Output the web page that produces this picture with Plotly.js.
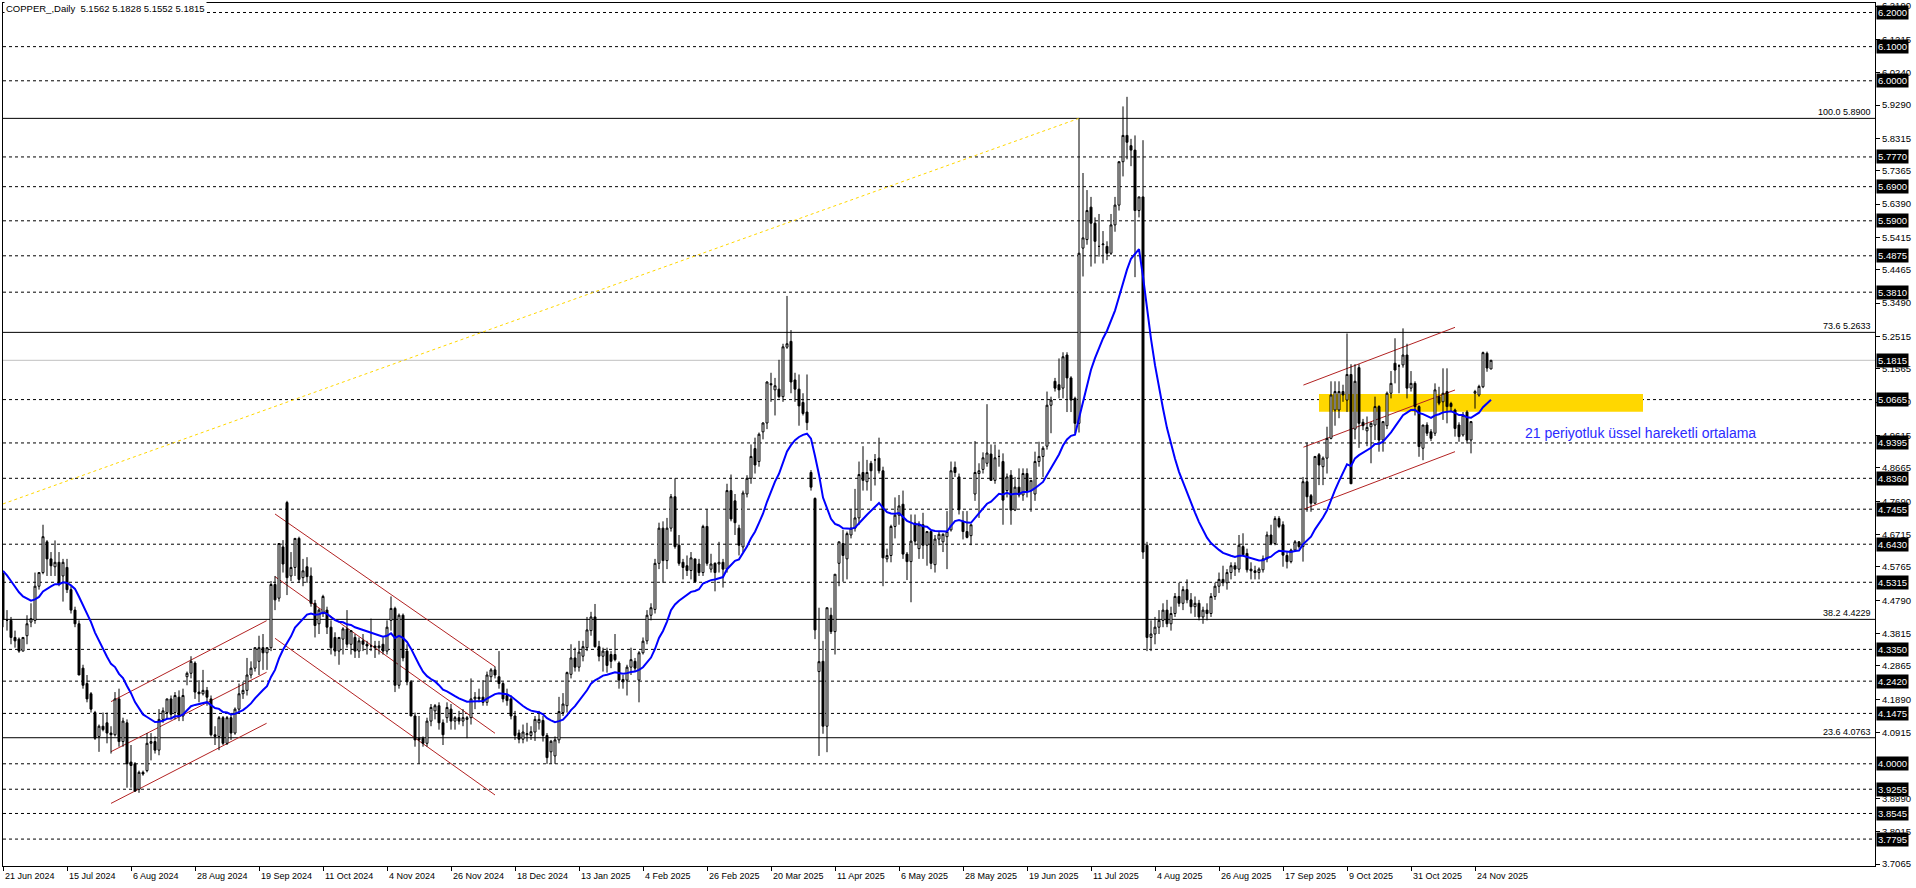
<!DOCTYPE html>
<html><head><meta charset="utf-8">
<script src="https://cdn.plot.ly/plotly-3.0.1.min.js"></script>
<style>html,body{margin:0;padding:0;background:#fff;overflow:hidden}#chart{width:1916px;height:888px}</style>
</head><body><div id="chart"></div>
<script>
// ---- Data (daily bars, COPPER_, from 21 Jun 2024) ----
const OPEN = [
4.558,4.42,4.42,4.37,4.365,4.33,4.375,4.415,4.42,4.52,
4.56,4.65,4.60,4.577,4.59,4.55,4.575,4.51,4.45,4.41,
4.28,4.235,4.205,4.15,4.08,4.11,4.12,4.09,4.085,4.19,
4.065,4.12,4.005,4.0,3.925,3.975,3.98,4.06,4.065,4.04,
4.13,4.15,4.19,4.15,4.195,4.14,4.255,4.265,4.295,4.21,
4.205,4.215,4.19,4.085,4.08,4.135,4.06,4.135,4.09,4.16,
4.205,4.215,4.26,4.28,4.30,4.34,4.325,4.34,4.525,4.485,
4.635,4.765,4.55,4.575,4.66,4.545,4.577,4.55,4.47,4.41,
4.44,4.45,4.40,4.37,4.33,4.365,4.395,4.35,4.37,4.33,
4.36,4.35,4.345,4.345,4.34,4.35,4.33,4.42,4.455,4.23,
4.435,4.33,4.24,4.14,4.075,4.075,4.06,4.125,4.155,4.17,
4.12,4.135,4.16,4.125,4.135,4.125,4.13,4.135,4.19,4.195,
4.195,4.18,4.255,4.275,4.255,4.235,4.20,4.19,4.14,4.09,
4.072,4.085,4.083,4.093,4.12,4.127,4.083,4.035,4.023,4.07,
4.15,4.17,4.262,4.31,4.283,4.315,4.34,4.39,4.43,4.343,
4.315,4.33,4.32,4.32,4.295,4.247,4.245,4.283,4.30,4.245,
4.325,4.36,4.435,4.452,4.587,4.69,4.595,4.69,4.782,4.64,
4.59,4.58,4.566,4.60,4.585,4.56,4.695,4.57,4.587,4.585,
4.59,4.57,4.80,4.77,4.69,4.635,4.79,4.836,4.923,4.885,
4.972,4.998,5.113,5.095,5.097,5.075,5.22,5.237,5.124,5.097,
5.058,5.03,4.853,4.777,4.27,4.30,4.11,4.435,4.387,4.587,
4.645,4.60,4.67,4.69,4.72,4.853,4.826,4.88,4.89,4.895,
4.858,4.60,4.61,4.695,4.728,4.76,4.614,4.592,4.705,4.63,
4.70,4.64,4.68,4.583,4.658,4.65,4.665,4.685,4.868,4.84,
4.71,4.68,4.668,4.79,4.85,4.862,4.88,4.907,4.83,4.90,
4.885,4.80,4.845,4.743,4.81,4.787,4.85,4.80,4.79,4.885,
4.90,4.93,5.05,5.12,5.11,5.10,5.197,5.13,5.07,4.997,
5.51,5.535,5.63,5.583,5.515,5.52,5.515,5.495,5.578,5.636,
5.763,5.84,5.81,5.797,5.62,5.66,4.64,4.37,4.38,4.40,
4.42,4.45,4.41,4.44,4.49,4.47,4.51,4.48,4.46,4.47,
4.43,4.45,4.44,4.49,4.52,4.54,4.53,4.56,4.58,4.57,
4.636,4.616,4.57,4.565,4.56,4.568,4.60,4.67,4.645,4.718,
4.70,4.61,4.592,4.626,4.65,4.636,4.826,4.785,4.763,4.905,
4.87,4.895,4.953,5.036,5.036,5.09,5.065,5.14,4.98,5.16,
5.0,4.975,4.987,4.992,5.046,4.948,4.99,5.085,5.173,5.165,
5.168,5.197,5.10,5.114,5.046,4.924,4.992,4.972,4.968,5.075,
5.06,5.09,5.055,5.036,4.992,4.963,5.03,4.948,5.085,5.08,
5.104,5.202,5.1562];
const HIGH = [
4.56,4.45,4.43,4.39,4.37,4.37,4.435,4.47,4.56,4.56,
4.70,4.655,4.62,4.654,4.62,4.60,4.60,4.52,4.46,4.42,
4.29,4.26,4.21,4.155,4.115,4.15,4.15,4.11,4.21,4.22,
4.135,4.13,4.055,4.005,3.98,3.98,4.09,4.09,4.08,4.16,
4.165,4.19,4.20,4.21,4.215,4.22,4.27,4.315,4.30,4.245,
4.275,4.225,4.20,4.11,4.14,4.14,4.14,4.145,4.165,4.235,
4.24,4.31,4.30,4.34,4.375,4.38,4.34,4.535,4.55,4.645,
4.655,4.77,4.62,4.66,4.665,4.60,4.605,4.575,4.48,4.455,
4.495,4.46,4.42,4.385,4.37,4.40,4.45,4.39,4.38,4.37,
4.38,4.36,4.425,4.36,4.36,4.37,4.42,4.49,4.46,4.44,
4.44,4.35,4.245,4.15,4.14,4.08,4.135,4.175,4.175,4.18,
4.13,4.18,4.175,4.14,4.155,4.16,4.14,4.25,4.21,4.22,
4.245,4.27,4.28,4.285,4.33,4.24,4.22,4.20,4.155,4.10,
4.115,4.12,4.11,4.14,4.155,4.14,4.09,4.07,4.08,4.196,
4.207,4.27,4.35,4.34,4.36,4.36,4.43,4.445,4.468,4.36,
4.34,4.34,4.33,4.38,4.30,4.26,4.29,4.34,4.31,4.33,
4.37,4.45,4.47,4.60,4.706,4.71,4.72,4.79,4.836,4.67,
4.60,4.61,4.62,4.60,4.60,4.70,4.745,4.615,4.59,4.65,
4.60,4.82,4.847,4.79,4.70,4.80,4.845,4.935,4.955,4.97,
5.0,5.12,5.145,5.13,5.183,5.23,5.37,5.27,5.145,5.14,
5.085,5.14,4.86,4.78,4.457,4.36,4.457,4.457,4.555,4.65,
4.685,4.68,4.745,4.805,4.885,4.93,4.89,4.887,4.907,4.955,
4.87,4.63,4.70,4.78,4.787,4.80,4.62,4.73,4.73,4.71,
4.735,4.68,4.68,4.67,4.68,4.675,4.74,4.885,4.885,4.85,
4.74,4.74,4.70,4.945,4.88,4.912,5.053,4.935,4.935,4.92,
4.909,4.85,4.86,4.84,4.865,4.865,4.865,4.83,4.914,4.943,
4.93,5.09,5.075,5.13,5.187,5.205,5.205,5.135,5.075,5.89,
5.73,5.68,5.66,5.60,5.61,5.56,5.53,5.61,5.66,5.76,
5.925,5.953,5.83,5.84,5.66,5.826,4.65,4.42,4.43,4.45,
4.47,4.48,4.46,4.50,4.53,4.52,4.54,4.50,4.49,4.48,
4.46,4.47,4.50,4.53,4.56,4.58,4.57,4.59,4.59,4.67,
4.675,4.63,4.59,4.58,4.575,4.61,4.68,4.70,4.725,4.725,
4.71,4.62,4.63,4.655,4.652,4.84,4.94,4.79,4.90,4.91,
4.90,4.987,5.12,5.12,5.12,5.11,5.26,5.17,5.17,5.17,
5.01,5.017,5.0,5.075,5.05,5.0,5.09,5.15,5.246,5.17,
5.275,5.23,5.15,5.12,5.05,4.99,5.0,4.98,5.114,5.104,
5.158,5.158,5.06,5.04,5.0,5.03,5.035,5.0,5.095,5.11,
5.207,5.207,5.1828];
const LOW = [
4.40,4.39,4.35,4.34,4.325,4.33,4.35,4.40,4.41,4.51,
4.555,4.55,4.55,4.55,4.52,4.475,4.50,4.44,4.40,4.26,
4.22,4.18,4.15,4.07,4.035,4.095,4.06,4.03,4.08,4.05,
4.05,3.93,3.93,3.918,3.915,3.965,3.975,4.01,4.03,4.025,
4.12,4.13,4.13,4.13,4.125,4.125,4.23,4.25,4.19,4.18,
4.20,4.17,4.08,4.055,4.04,4.055,4.055,4.07,4.085,4.15,
4.19,4.20,4.25,4.27,4.26,4.275,4.275,4.33,4.45,4.475,
4.56,4.494,4.535,4.55,4.53,4.52,4.53,4.46,4.37,4.38,
4.43,4.38,4.32,4.315,4.29,4.32,4.34,4.32,4.31,4.31,
4.33,4.32,4.33,4.31,4.32,4.32,4.32,4.39,4.21,4.22,
4.30,4.23,4.14,4.05,4.0,4.05,4.05,4.11,4.13,4.10,
4.055,4.12,4.10,4.10,4.115,4.11,4.075,4.115,4.16,4.18,
4.17,4.17,4.24,4.25,4.22,4.18,4.17,4.13,4.07,4.06,
4.06,4.065,4.07,4.067,4.10,4.065,4.0,4.0,4.0,4.06,
4.14,4.15,4.25,4.27,4.27,4.30,4.33,4.375,4.34,4.30,
4.27,4.267,4.28,4.30,4.22,4.22,4.20,4.26,4.27,4.18,
4.32,4.35,4.42,4.44,4.57,4.53,4.57,4.68,4.63,4.58,
4.54,4.55,4.54,4.53,4.55,4.55,4.58,4.56,4.505,4.56,
4.516,4.56,4.71,4.67,4.61,4.62,4.78,4.82,4.85,4.87,
4.95,4.98,5.06,5.02,5.07,5.06,5.215,5.085,5.06,4.99,
5.02,4.977,4.80,4.365,4.023,4.088,4.034,4.38,4.32,4.52,
4.533,4.54,4.66,4.68,4.70,4.80,4.80,4.77,4.815,4.85,
4.52,4.59,4.59,4.66,4.70,4.60,4.538,4.473,4.64,4.60,
4.60,4.58,4.57,4.56,4.64,4.62,4.57,4.68,4.84,4.73,
4.657,4.66,4.64,4.77,4.72,4.85,4.87,4.83,4.82,4.87,
4.70,4.78,4.70,4.74,4.78,4.77,4.78,4.738,4.77,4.87,
4.84,4.92,4.968,5.09,5.07,5.07,5.03,5.03,4.968,4.97,
5.427,5.52,5.456,5.465,5.485,5.465,5.475,5.49,5.558,5.62,
5.72,5.77,5.75,5.425,5.60,4.60,4.33,4.33,4.35,4.38,
4.40,4.40,4.39,4.43,4.46,4.45,4.47,4.44,4.43,4.42,
4.41,4.42,4.43,4.48,4.50,4.52,4.51,4.54,4.55,4.56,
4.61,4.56,4.54,4.54,4.54,4.56,4.59,4.64,4.64,4.69,
4.577,4.572,4.587,4.62,4.63,4.592,4.738,4.738,4.76,4.816,
4.816,4.85,4.95,4.99,5.012,5.06,5.03,4.82,4.95,4.925,
4.977,4.93,4.88,4.948,4.914,4.914,4.98,5.07,5.114,5.085,
5.16,5.07,5.09,5.02,4.899,4.889,4.96,4.945,4.96,5.05,
5.007,4.997,5.03,4.958,4.943,4.958,4.938,4.909,5.04,5.075,
5.10,5.148,5.1552];
const CLOSE = [
4.423,4.42,4.37,4.36,4.33,4.37,4.41,4.425,4.52,4.56,
4.665,4.60,4.58,4.59,4.525,4.59,4.51,4.45,4.41,4.26,
4.23,4.19,4.16,4.075,4.11,4.10,4.09,4.085,4.19,4.065,
4.125,4.00,3.995,3.92,3.975,3.97,4.06,4.065,4.04,4.13,
4.155,4.19,4.145,4.20,4.14,4.20,4.265,4.30,4.21,4.205,
4.215,4.195,4.085,4.08,4.135,4.06,4.135,4.09,4.16,4.205,
4.215,4.26,4.28,4.34,4.34,4.325,4.34,4.525,4.48,4.645,
4.585,4.545,4.575,4.66,4.54,4.565,4.548,4.47,4.405,4.45,
4.49,4.40,4.34,4.33,4.37,4.395,4.35,4.39,4.33,4.36,
4.35,4.345,4.345,4.34,4.345,4.33,4.40,4.455,4.23,4.435,
4.31,4.24,4.14,4.07,4.07,4.06,4.125,4.165,4.17,4.12,
4.085,4.165,4.125,4.135,4.125,4.135,4.135,4.19,4.195,4.19,
4.18,4.26,4.275,4.26,4.235,4.19,4.185,4.14,4.083,4.072,
4.093,4.088,4.094,4.13,4.13,4.083,4.018,4.066,4.07,4.153,
4.175,4.267,4.31,4.283,4.327,4.343,4.392,4.43,4.343,4.315,
4.33,4.288,4.30,4.305,4.245,4.24,4.283,4.305,4.28,4.325,
4.359,4.435,4.457,4.587,4.69,4.595,4.69,4.782,4.636,4.587,
4.575,4.566,4.603,4.533,4.56,4.695,4.587,4.585,4.56,4.59,
4.57,4.80,4.717,4.706,4.64,4.793,4.836,4.90,4.875,4.965,
4.998,5.118,5.11,5.107,5.075,5.221,5.23,5.118,5.097,5.048,
5.026,4.999,4.81,4.392,4.299,4.11,4.457,4.387,4.555,4.65,
4.61,4.674,4.69,4.72,4.847,4.83,4.853,4.858,4.89,4.858,
4.603,4.61,4.695,4.728,4.755,4.614,4.592,4.652,4.652,4.70,
4.64,4.68,4.587,4.658,4.672,4.672,4.68,4.858,4.853,4.744,
4.68,4.663,4.70,4.853,4.858,4.896,4.91,4.83,4.896,4.90,
4.772,4.84,4.743,4.81,4.787,4.85,4.80,4.83,4.885,4.90,
4.924,5.05,5.065,5.10,5.095,5.192,5.13,5.065,4.997,5.495,
5.54,5.62,5.583,5.53,5.515,5.522,5.495,5.578,5.636,5.763,
5.84,5.82,5.797,5.62,5.66,4.62,4.37,4.38,4.40,4.42,
4.45,4.41,4.44,4.49,4.47,4.51,4.48,4.46,4.47,4.43,
4.45,4.44,4.49,4.52,4.54,4.53,4.56,4.58,4.57,4.64,
4.612,4.568,4.565,4.56,4.57,4.60,4.67,4.645,4.718,4.695,
4.611,4.592,4.626,4.65,4.636,4.826,4.782,4.763,4.90,4.875,
4.895,4.953,5.08,5.09,5.09,5.08,5.14,4.82,5.12,4.997,
4.99,4.985,4.997,5.046,4.948,5.002,5.085,5.114,5.153,5.165,
5.197,5.10,5.114,5.046,4.929,4.992,4.968,4.953,5.095,5.056,
5.085,5.046,5.046,4.982,4.958,5.021,4.948,5.002,5.09,5.105,
5.204,5.159,5.1815];

const DATE_LABELS = ["21 Jun 2024","15 Jul 2024","6 Aug 2024","28 Aug 2024","19 Sep 2024","11 Oct 2024","4 Nov 2024","26 Nov 2024","18 Dec 2024","13 Jan 2025","4 Feb 2025","26 Feb 2025","20 Mar 2025","11 Apr 2025","6 May 2025","28 May 2025","19 Jun 2025","11 Jul 2025","4 Aug 2025","26 Aug 2025","17 Sep 2025","9 Oct 2025","31 Oct 2025","24 Nov 2025"];
const BARS_PER_LABEL = 16;
const Y_TICKS = [6.2190,6.1215,6.0240,5.9290,5.8315,5.7365,5.6390,5.5415,5.4465,5.3490,5.2515,5.1565,5.0590,4.9615,4.8665,4.7690,4.6715,4.5765,4.4790,4.3815,4.2865,4.1890,4.0915,3.8990,3.8015,3.7065];
const HLINE_LEVELS = [6.2000,6.1000,6.0000,5.7770,5.6900,5.5900,5.4875,5.3810,5.0665,4.9395,4.8360,4.7455,4.6430,4.5315,4.3350,4.2420,4.1475,4.0000,3.9255,3.8545,3.7795];
const BID = 5.1815;
const FIB_LEVELS = [5.8900,5.2633,4.4229,4.0763];
const FIB_PCTS = ["100.0","73.6","38.2","23.6"];
const FIB_TREND = {x0:0, y0:4.761, x1:269, y1:5.8900};
const CHANNELS = [
  [27,4.182,65.9,4.419],[27,4.0355,65.9,4.268],[27,3.884,65.9,4.1186],
  [68,4.7315,123,4.2843],[68,4.548,123,4.0893],[68,4.3675,123,3.9087],
  [325.1,5.109,363,5.278],[325.1,4.927,363,5.0946],[325.1,4.745,363,4.914]
];
const ZONE = {x0:329, x1:410, y0:5.031, y1:5.083};
const EMA_PERIOD = 21;
const EMA_START = 4.565;
const HEADER = "COPPER_,Daily  5.1562 5.1828 5.1552 5.1815";
const NOTE = {x:380, y:4.969, text:"21 periyotluk üssel hareketli ortalama"};

// ---- Build ----
const N = CLOSE.length;
const X = [];
for (let i = 0; i < N; i++) X.push(i);
const ema = [EMA_START];
for (let i = 1; i < N; i++) ema.push(ema[i-1] + (2/(EMA_PERIOD+1))*(CLOSE[i]-ema[i-1]));

const FONT = "Liberation Sans, Arial, sans-serif";

const traces = [
  {type:'candlestick', x:X, open:OPEN, high:HIGH, low:LOW, close:CLOSE,
   increasing:{line:{color:'#000000', width:1}, fillcolor:'#ffffff'},
   decreasing:{line:{color:'#000000', width:1}, fillcolor:'#000000'},
   whiskerwidth:0, hoverinfo:'skip', showlegend:false},
  {type:'scatter', mode:'lines', x:X, y:ema, line:{color:'#0000ff', width:2},
   hoverinfo:'skip', showlegend:false}
];

const shapes = [];
shapes.push({type:'rect', layer:'below', xref:'x', yref:'y', x0:ZONE.x0, x1:ZONE.x1, y0:ZONE.y0, y1:ZONE.y1,
  fillcolor:'#ffd700', line:{width:0}});
HLINE_LEVELS.forEach(v => shapes.push({type:'line', layer:'below', xref:'paper', x0:0, x1:1, yref:'y', y0:v, y1:v,
  line:{color:'#000000', width:1, dash:'3px,3px'}}));
FIB_LEVELS.forEach(v => shapes.push({type:'line', layer:'below', xref:'paper', x0:0, x1:1, yref:'y', y0:v, y1:v,
  line:{color:'#000000', width:1}}));
shapes.push({type:'line', layer:'below', xref:'paper', x0:0, x1:1, yref:'y', y0:BID, y1:BID, line:{color:'#c0c0c0', width:1}});
shapes.push({type:'line', layer:'below', xref:'x', yref:'y', x0:FIB_TREND.x0, y0:FIB_TREND.y0, x1:FIB_TREND.x1, y1:FIB_TREND.y1,
  line:{color:'#ffd700', width:1, dash:'3px,3px'}});
CHANNELS.forEach(c => shapes.push({type:'line', layer:'below', xref:'x', yref:'y', x0:c[0], y0:c[1], x1:c[2], y1:c[3],
  line:{color:'#b22222', width:1}}));

const annotations = [];
annotations.push({xref:'paper', yref:'paper', x:0, y:1, xanchor:'left', yanchor:'top', xshift:1, yshift:2,
  text:HEADER, showarrow:false, bgcolor:'#ffffff', borderpad:1, font:{family:FONT, size:9.5, color:'#000'}});
DATE_LABELS.forEach((t, k) => annotations.push({xref:'x', yref:'paper', x:k*BARS_PER_LABEL, y:0, xanchor:'left', yanchor:'top',
  xshift:0, yshift:-3, text:t, showarrow:false, font:{family:FONT, size:9, color:'#000'}}));
HLINE_LEVELS.concat([BID]).forEach(v => annotations.push({xref:'paper', yref:'y', x:1, y:v, xanchor:'left', yanchor:'middle',
  xshift:1, text:v.toFixed(4), showarrow:false, bgcolor:'#000000', borderpad:1, font:{family:FONT, size:9.5, color:'#ffffff'}}));
FIB_LEVELS.forEach((v, k) => annotations.push({xref:'paper', yref:'y', x:1, y:v, xanchor:'right', yanchor:'bottom',
  xshift:-2, yshift:-1, text:FIB_PCTS[k] + ' ' + v.toFixed(4), showarrow:false, font:{family:FONT, size:9, color:'#000'}}));
annotations.push({xref:'x', yref:'y', x:NOTE.x, y:NOTE.y, xanchor:'left', yanchor:'middle', text:NOTE.text, showarrow:false,
  font:{family:FONT, size:14, color:'#2b2bff'}});

const layout = {
  width:1916, height:888,
  margin:{l:3, r:41, t:3, b:22, pad:0},
  paper_bgcolor:'#ffffff', plot_bgcolor:'#ffffff',
  showlegend:false, hovermode:false, dragmode:false,
  xaxis:{range:[0,468], tickvals:DATE_LABELS.map((t,k)=>k*BARS_PER_LABEL), showticklabels:false,
    ticks:'outside', ticklen:4, tickcolor:'#000', tickwidth:1,
    showgrid:false, zeroline:false, showline:true, linecolor:'#000', linewidth:1, mirror:true,
    rangeslider:{visible:false}, fixedrange:true},
  yaxis:{side:'right', range:[3.7007, 6.2278], tickvals:Y_TICKS, ticktext:Y_TICKS.map(v=>v.toFixed(4)),
    ticks:'outside', ticklen:4, tickcolor:'#000', tickwidth:1,
    tickfont:{family:FONT, size:9.5, color:'#000'},
    showgrid:false, zeroline:false, showline:true, linecolor:'#000', linewidth:1, mirror:true, fixedrange:true},
  shapes:shapes, annotations:annotations
};

Plotly.newPlot('chart', traces, layout, {displayModeBar:false, staticPlot:true});
</script>
</body></html>
